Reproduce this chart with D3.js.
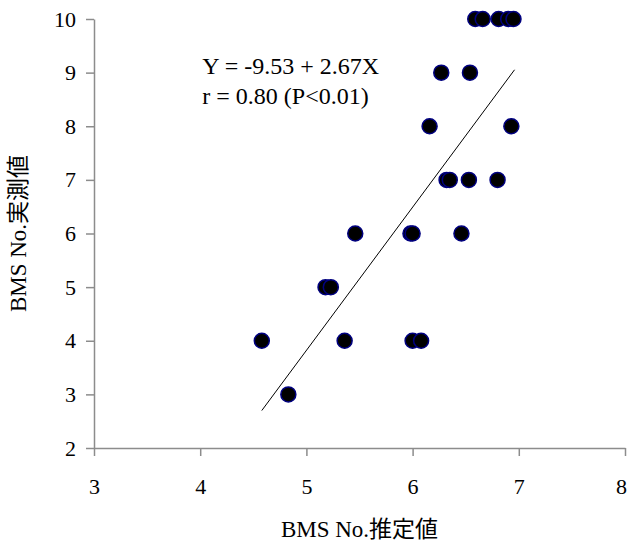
<!DOCTYPE html>
<html lang="ja">
<head>
  <meta charset="UTF-8">
  <title>BMS No.</title>
  <style type="text/css">
    body{
      margin: 0;
      background: #fff;
    }
    text{
      font-family: "Liberation Serif", "Noto Sans CJK JP", serif;
      fill: #000;
    }
    .axis text{
      font-size: 22px;
      font-family: "Liberation Serif", "Times New Roman", serif;
    }
    .axis path,
    .axis line{
      stroke: #8c8c8c;
      stroke-width: 1.5px;
    }
    .label{
      font-size: 23px;
    }
    .stat{
      font-size: 24px;
    }
    .dot{
      fill: #000;
      stroke: #000080;
      stroke-width: 1.5px;
    }
  </style>
  <script src="https://cdn.jsdelivr.net/npm/d3@7"></script>
</head>
<body>
<script type="text/javascript">
  // estimated (x), measured (y)
  var estimated = [6.59, 6.66, 6.81, 6.90, 6.95,
                   6.27, 6.54,
                   6.16, 6.93,
                   6.32, 6.35, 6.53, 6.80,
                   5.46, 5.98, 6.00, 6.46,
                   5.18, 5.23,
                   4.58, 5.36, 6.00, 6.08,
                   4.83];
  var measured  = [10, 10, 10, 10, 10,
                   9, 9,
                   8, 8,
                   7, 7, 7, 7,
                   6, 6, 6, 6,
                   5, 5,
                   4, 4, 4, 4,
                   3];
  var xTicks = [3, 4, 5, 6, 7, 8];
  var yTicks = [2, 3, 4, 5, 6, 7, 8, 9, 10];
  var intercept = -9.53;
  var slope = 2.67;
  var statLines = ['Y = -9.53 + 2.67X', 'r = 0.80 (P<0.01)'];

  var margin = {top: 19, right: 2, bottom: 96, left: 94};
  var width = 627 - margin.left - margin.right;
  var height = 544 - margin.top - margin.bottom;

  var svg = d3.select('body')
    .append('svg')
    .attr('width', 627)
    .attr('height', 544)
  .append('g')
    .attr('transform', 'translate(' + margin.left + ',' + margin.top + ')');

  var xScale = d3.scaleLinear().domain([3, 8]).range([0, width]);
  var yScale = d3.scaleLinear().domain([2, 10]).range([height, 0]);

  var xAxis = d3.axisBottom(xScale)
    .tickValues(xTicks)
    .tickFormat(d3.format('d'))
    .tickSize(8)
    .tickSizeOuter(0)
    .tickPadding(22);

  var yAxis = d3.axisLeft(yScale)
    .tickValues(yTicks)
    .tickFormat(d3.format('d'))
    .tickSize(8)
    .tickSizeOuter(0)
    .tickPadding(10);

  var gx = svg.append('g')
    .attr('class', 'x axis')
    .attr('transform', 'translate(0,' + height + ')')
    .call(xAxis);

  // keep the last label inside the window
  gx.selectAll('.tick text')
    .filter(function(d){ return d === xTicks[xTicks.length - 1]; })
    .attr('dx', -4);

  svg.append('g')
    .attr('class', 'y axis')
    .call(yAxis);

  // regression line over the data range
  var xExt = d3.extent(estimated);
  svg.append('line')
    .attr('x1', xScale(xExt[0]))
    .attr('y1', yScale(intercept + slope * xExt[0]))
    .attr('x2', xScale(xExt[1] + 0.01))
    .attr('y2', yScale(intercept + slope * (xExt[1] + 0.01)))
    .attr('stroke', '#000')
    .attr('stroke-width', 1);

  svg.selectAll('.dot')
    .data(estimated)
    .enter().append('circle')
    .attr('class', 'dot')
    .attr('cx', function(d){ return xScale(d); })
    .attr('cy', function(d, i){ return yScale(measured[i]); })
    .attr('r', 7.5);

  svg.selectAll('.stat')
    .data(statLines)
    .enter().append('text')
    .attr('class', 'stat')
    .attr('x', xScale(4.02))
    .attr('y', function(d, i){ return 55 + i * 30; })
    .text(function(d){ return d; });

  svg.append('text')
    .attr('class', 'label')
    .attr('x', width / 2)
    .attr('y', height + 89)
    .attr('text-anchor', 'middle')
    .text('BMS No.推定値');

  svg.append('text')
    .attr('class', 'label')
    .attr('transform', 'translate(' + (-68) + ',' + (height / 2) + ') rotate(-90)')
    .attr('text-anchor', 'middle')
    .text('BMS No.実測値');
</script>
</body>
</html>
